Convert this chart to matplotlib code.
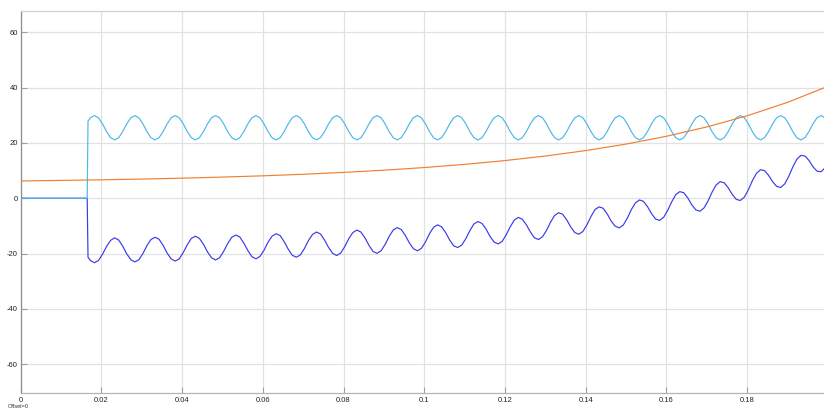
import numpy as np
import matplotlib
matplotlib.use("Agg")
import matplotlib.pyplot as plt

# ---- data -------------------------------------------------------------
# samples before and at the switching instant
t_start = [0.0, 0.0165, 0.0167]
cyan_start = [0.0, 0.0, 27.9]
blue_start = [0.0, 0.0, -21.3]

# steady part: 1 ms samples from 0.0173 s onward (184 samples)
t_wave = np.round(0.0173 + 0.001 * np.arange(184), 4)

cyan_wave = [
    29.1, 29.9, 29.1,
    26.9, 24.1, 21.9, 21.1, 21.9, 24.1, 26.9, 29.1, 29.9, 29.1,
    26.9, 24.1, 21.9, 21.1, 21.9, 24.1, 26.9, 29.1, 29.9, 29.1,
    26.9, 24.1, 21.9, 21.1, 21.9, 24.1, 26.9, 29.1, 29.9, 29.1,
    26.9, 24.1, 21.9, 21.1, 21.9, 24.1, 26.9, 29.1, 29.9, 29.1,
    26.9, 24.1, 21.9, 21.1, 21.9, 24.1, 26.9, 29.1, 29.9, 29.1,
    26.9, 24.1, 21.9, 21.1, 21.9, 24.1, 26.9, 29.1, 29.9, 29.1,
    26.9, 24.1, 21.9, 21.1, 21.9, 24.1, 26.9, 29.1, 29.9, 29.1,
    26.9, 24.1, 21.9, 21.1, 21.9, 24.1, 26.9, 29.1, 29.9, 29.1,
    26.9, 24.1, 21.9, 21.1, 21.9, 24.1, 26.9, 29.1, 29.9, 29.1,
    26.9, 24.1, 21.9, 21.1, 21.9, 24.1, 26.9, 29.1, 29.9, 29.1,
    26.9, 24.1, 21.9, 21.1, 21.9, 24.1, 26.9, 29.1, 29.9, 29.1,
    26.9, 24.1, 21.9, 21.1, 21.9, 24.1, 26.9, 29.1, 29.9, 29.1,
    26.9, 24.1, 21.9, 21.1, 21.9, 24.1, 26.9, 29.1, 29.9, 29.1,
    26.9, 24.1, 21.9, 21.1, 21.9, 24.1, 26.9, 29.1, 29.9, 29.1,
    26.9, 24.1, 21.9, 21.1, 21.9, 24.1, 26.9, 29.1, 29.9, 29.1,
    26.9, 24.1, 21.9, 21.1, 21.9, 24.1, 26.9, 29.1, 29.9, 29.1,
    26.9, 24.1, 21.9, 21.1, 21.9, 24.1, 26.9, 29.1, 29.9, 29.1,
    26.9, 24.1, 21.9, 21.1, 21.9, 24.1, 26.9, 29.1, 29.9, 29.1,
    26.9,
]

blue_wave = [
    -22.5, -23.3, -22.5,
    -20.2, -17.4, -15.2, -14.3, -15.1, -17.3, -20.1, -22.2, -23.0, -22.2,
    -20.0, -17.1, -14.9, -14.1, -14.8, -17.0, -19.8, -21.9, -22.7, -21.9,
    -19.6, -16.8, -14.5, -13.7, -14.5, -16.6, -19.4, -21.5, -22.3, -21.5,
    -19.2, -16.4, -14.1, -13.3, -14.0, -16.2, -18.9, -21.1, -21.9, -21.0,
    -18.8, -15.9, -13.7, -12.8, -13.5, -15.7, -18.4, -20.6, -21.3, -20.5,
    -18.2, -15.3, -13.1, -12.2, -12.9, -15.1, -17.8, -19.9, -20.7, -19.8,
    -17.5, -14.6, -12.4, -11.5, -12.2, -14.3, -17.0, -19.2, -19.9, -19.0,
    -16.7, -13.8, -11.5, -10.6, -11.3, -13.4, -16.1, -18.2, -19.0, -18.1,
    -15.8, -12.8, -10.5, -9.6, -10.3, -12.4, -15.1, -17.2, -17.8, -16.9,
    -14.6, -11.7, -9.3, -8.4, -9.1, -11.1, -13.8, -15.8, -16.5, -15.6,
    -13.2, -10.3, -7.9, -6.9, -7.6, -9.6, -12.2, -14.3, -14.9, -13.9,
    -11.6, -8.6, -6.2, -5.2, -5.8, -7.8, -10.4, -12.4, -13.0, -12.0,
    -9.6, -6.6, -4.1, -3.1, -3.6, -5.6, -8.2, -10.1, -10.7, -9.7,
    -7.2, -4.1, -1.7, -0.6, -1.1, -3.0, -5.5, -7.5, -8.0, -6.9,
    -4.4, -1.3, 1.3, 2.4, 2.0, 0.1, -2.4, -4.2, -4.7, -3.5,
    -1.0, 2.2, 4.8, 6.0, 5.6, 3.8, 1.4, -0.4, -0.8, 0.4,
    3.1, 6.4, 9.0, 10.3, 10.0, 8.3, 6.0, 4.3, 3.9, 5.2,
    7.9, 11.3, 14.1, 15.5, 15.3, 13.7, 11.4, 9.8, 9.6, 11.0,
    13.8,
]

# slowly rising signal, 10 ms samples
t_orange = np.round(0.01 * np.arange(21), 2)
orange = [6.26, 6.45, 6.67, 6.94, 7.27, 7.66, 8.12, 8.68, 9.35, 10.15,
          11.11, 12.25, 13.63, 15.27, 17.24, 19.59, 22.41, 25.79, 29.83,
          34.67, 40.49]

x_ticks = [0, 0.02, 0.04, 0.06, 0.08, 0.1, 0.12, 0.14, 0.16, 0.18]
x_labels = ["0", "0.02", "0.04", "0.06", "0.08", "0.1", "0.12", "0.14",
            "0.16", "0.18"]
y_ticks = [-60, -40, -20, 0, 20, 40, 60]
y_labels = ["-60", "-40", "-20", "0", "20", "40", "60"]

# ---- figure -----------------------------------------------------------
W, H, DPI = 824, 409, 100
fig = plt.figure(figsize=(W / DPI, H / DPI), dpi=DPI)
fig.patch.set_facecolor("white")

ax = fig.add_axes([20.6 / W, (H - 393.3) / H, 807.3 / W, 382.3 / H])
ax.set_facecolor("white")

t_cyan = np.concatenate([t_start, t_wave])
y_cyan = np.array(cyan_start + cyan_wave)
t_blue = np.concatenate([t_start, t_wave])
y_blue = np.array(blue_start + blue_wave)

ax.plot(t_blue, y_blue, color="#3a3aea", lw=0.85, zorder=3)
ax.plot(t_cyan, y_cyan, color="#4cb8e8", lw=0.85, zorder=4)
ax.plot(t_orange, orange, color="#f07f33", lw=0.85, zorder=5)

ax.set_xlim(0, 0.2)
ax.set_ylim(-70.5, 67.7)

ax.set_xticks(x_ticks)
ax.set_xticklabels(x_labels)
ax.set_yticks(y_ticks)
ax.set_yticklabels(y_labels)

ax.grid(True, color="#e2e2e2", lw=0.9)
ax.set_axisbelow(True)

ax.tick_params(axis="both", direction="in", length=4.5, width=0.8,
               color="#a0a0a0", labelsize=5.5, labelcolor="#222222",
               top=False, right=False)
ax.tick_params(axis="x", pad=2.5)
ax.tick_params(axis="y", pad=2)
for lab in ax.get_xticklabels() + ax.get_yticklabels():
    lab.set_family(["Liberation Sans", "DejaVu Sans"])

ax.spines["left"].set_color("#8c8c8c")
ax.spines["bottom"].set_color("#b4b4b4")
ax.spines["top"].set_color("#d2d2d2")
ax.spines["right"].set_color("#b4b4b4")
for s in ax.spines.values():
    s.set_linewidth(0.9)

fig.text(8 / W, 0.2 / H, "Offset=0", fontsize=4.0, color="#333333",
         va="bottom", ha="left", family=["Liberation Sans", "DejaVu Sans"])

fig.savefig("out.png", dpi=DPI, facecolor="white")
